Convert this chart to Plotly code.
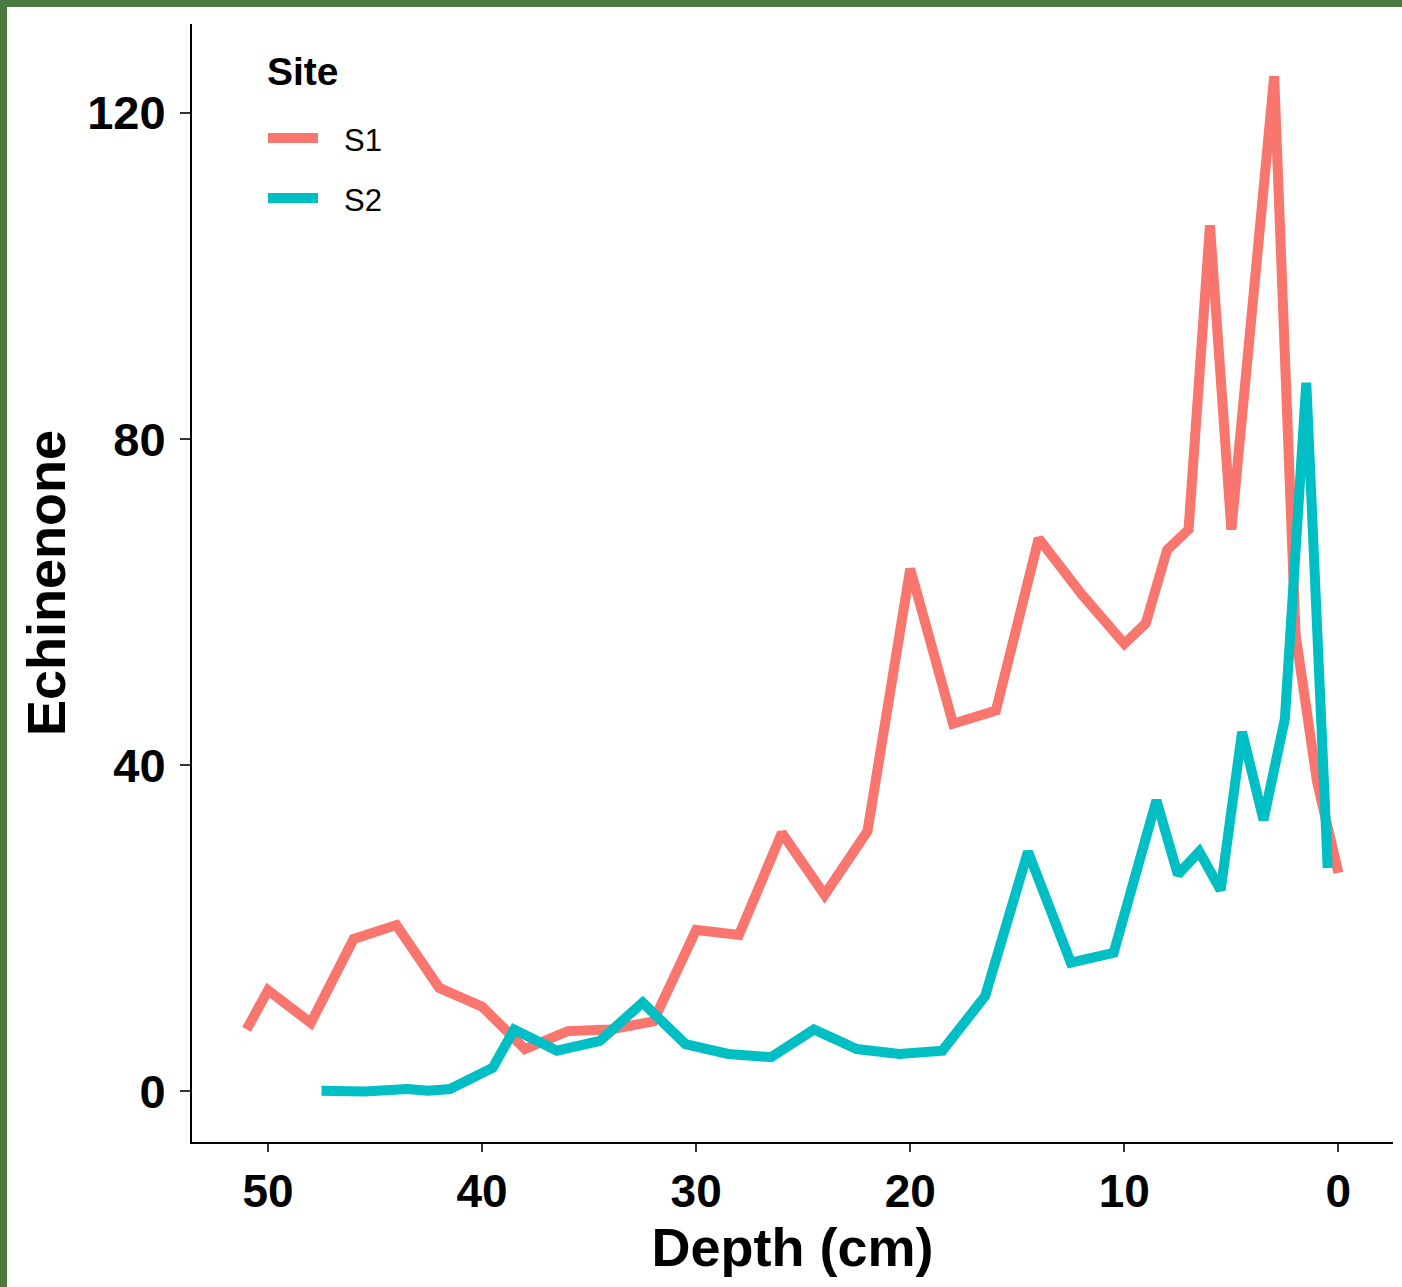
import plotly.graph_objects as go

# Site S1
s1_depth = [51, 50, 48, 46, 44, 42, 40, 38, 36, 34, 32, 30, 28, 26, 24, 22, 20, 18, 16, 14,
            12, 10, 9, 8, 7, 6, 5, 3, 2, 1, 0]
s1_echinenone = [7.6, 12.4, 8.4, 18.7, 20.4, 12.7, 10.4, 5.2, 7.4, 7.6, 8.6, 19.8, 19.2, 31.7,
                 24.1, 31.9, 64.1, 45.1, 46.7, 67.8, 61.0, 54.9, 57.4, 66.4, 68.9, 106.2, 68.9,
                 124.5, 56.0, 38.0, 26.8]

# Site S2
s2_depth = [47.5, 45.5, 43.5, 42.5, 41.5, 39.5, 38.5, 36.5, 34.5, 32.5, 30.5, 28.5, 26.5, 24.5,
            22.5, 20.5, 18.5, 16.5, 14.5, 12.5, 10.5, 8.5, 7.5, 6.5, 5.5, 4.5, 3.5, 2.5, 1.5, 0.5]
s2_echinenone = [0.1, 0.0, 0.3, 0.1, 0.3, 2.9, 7.6, 5.0, 6.2, 10.9, 5.8, 4.6, 4.2, 7.6,
                 5.2, 4.6, 5.0, 11.7, 29.4, 15.8, 17.0, 35.7, 26.6, 29.4, 24.7, 44.1, 33.3,
                 45.7, 86.9, 27.4]

sites = ["S1", "S2"]
site_colors = ["#F8766D", "#00BFC4"]

x_ticks = [50, 40, 30, 20, 10, 0]
y_ticks = [0, 40, 80, 120]

FONT = "Liberation Sans, Arial, sans-serif"

W, H = 1402, 1287
L, R, T, B = 192, 9, 24, 145
pw, ph = W - L - R, H - T - B

def px_to_paper_x(px):
    return (px - L) / pw

def px_to_paper_y(py):
    return (H - B - py) / ph

fig = go.Figure()
for name, xs, ys, col in zip(sites, [s1_depth, s2_depth], [s1_echinenone, s2_echinenone], site_colors):
    fig.add_trace(go.Scatter(x=xs, y=ys, mode="lines", name=name, showlegend=False,
                             line=dict(color=col, width=10)))

fig.update_layout(
    width=W, height=H,
    margin=dict(l=L, r=R, t=T, b=B),
    paper_bgcolor="white",
    plot_bgcolor="white",
    font=dict(family=FONT, color="black"),
    showlegend=False,
    xaxis=dict(
        range=[53.55, -2.55],
        tickmode="array", tickvals=x_ticks, ticktext=[str(v) for v in x_ticks],
        showgrid=False, zeroline=False,
        showline=True, linecolor="black", linewidth=2,
        ticks="outside", ticklen=8, tickwidth=2, tickcolor="#333333",
        tickfont=dict(size=46, family=FONT, color="black", weight="bold"),
        title=dict(text="Depth (cm)", font=dict(size=54, family=FONT, color="black", weight="bold"),
                   standoff=12),
    ),
    yaxis=dict(
        range=[-6.2, 130.9],
        tickmode="array", tickvals=y_ticks, ticktext=[str(v) for v in y_ticks],
        showgrid=False, zeroline=False,
        showline=True, linecolor="black", linewidth=2,
        ticks="outside", ticklen=10, tickwidth=2, tickcolor="#333333",
        ticklabelstandoff=5,
        tickfont=dict(size=47, family=FONT, color="black", weight="bold"),
        title=dict(text="Echinenone", font=dict(size=54, family=FONT, color="black", weight="bold"),
                   standoff=4),
    ),
)

# legend (drawn manually to match ggplot key size)
fig.add_annotation(text="<b>Site</b>", xref="paper", yref="paper",
                   x=px_to_paper_x(265), y=px_to_paper_y(72), xanchor="left", yanchor="middle",
                   showarrow=False, font=dict(size=39, family=FONT, color="black"))
for i, (name, col) in enumerate(zip(sites, site_colors)):
    yk = 138 + 60 * i
    fig.add_shape(type="line", xref="paper", yref="paper",
                  x0=px_to_paper_x(268), x1=px_to_paper_x(318),
                  y0=px_to_paper_y(yk), y1=px_to_paper_y(yk),
                  line=dict(color=col, width=10))
    fig.add_annotation(text=name, xref="paper", yref="paper",
                       x=px_to_paper_x(342), y=px_to_paper_y(yk + 2), xanchor="left", yanchor="middle",
                       showarrow=False, font=dict(size=31, family=FONT, color="black"))

# green background frame strips (top and left edges of the original slide image)
fig.add_shape(type="rect", xref="paper", yref="paper",
              x0=px_to_paper_x(0), x1=px_to_paper_x(W), y0=px_to_paper_y(7), y1=px_to_paper_y(0),
              fillcolor="#4a7a3f", line=dict(width=0), layer="below")
fig.add_shape(type="rect", xref="paper", yref="paper",
              x0=px_to_paper_x(0), x1=px_to_paper_x(7), y0=px_to_paper_y(H), y1=px_to_paper_y(0),
              fillcolor="#4a7a3f", line=dict(width=0), layer="below")

fig.write_html("out.html")
